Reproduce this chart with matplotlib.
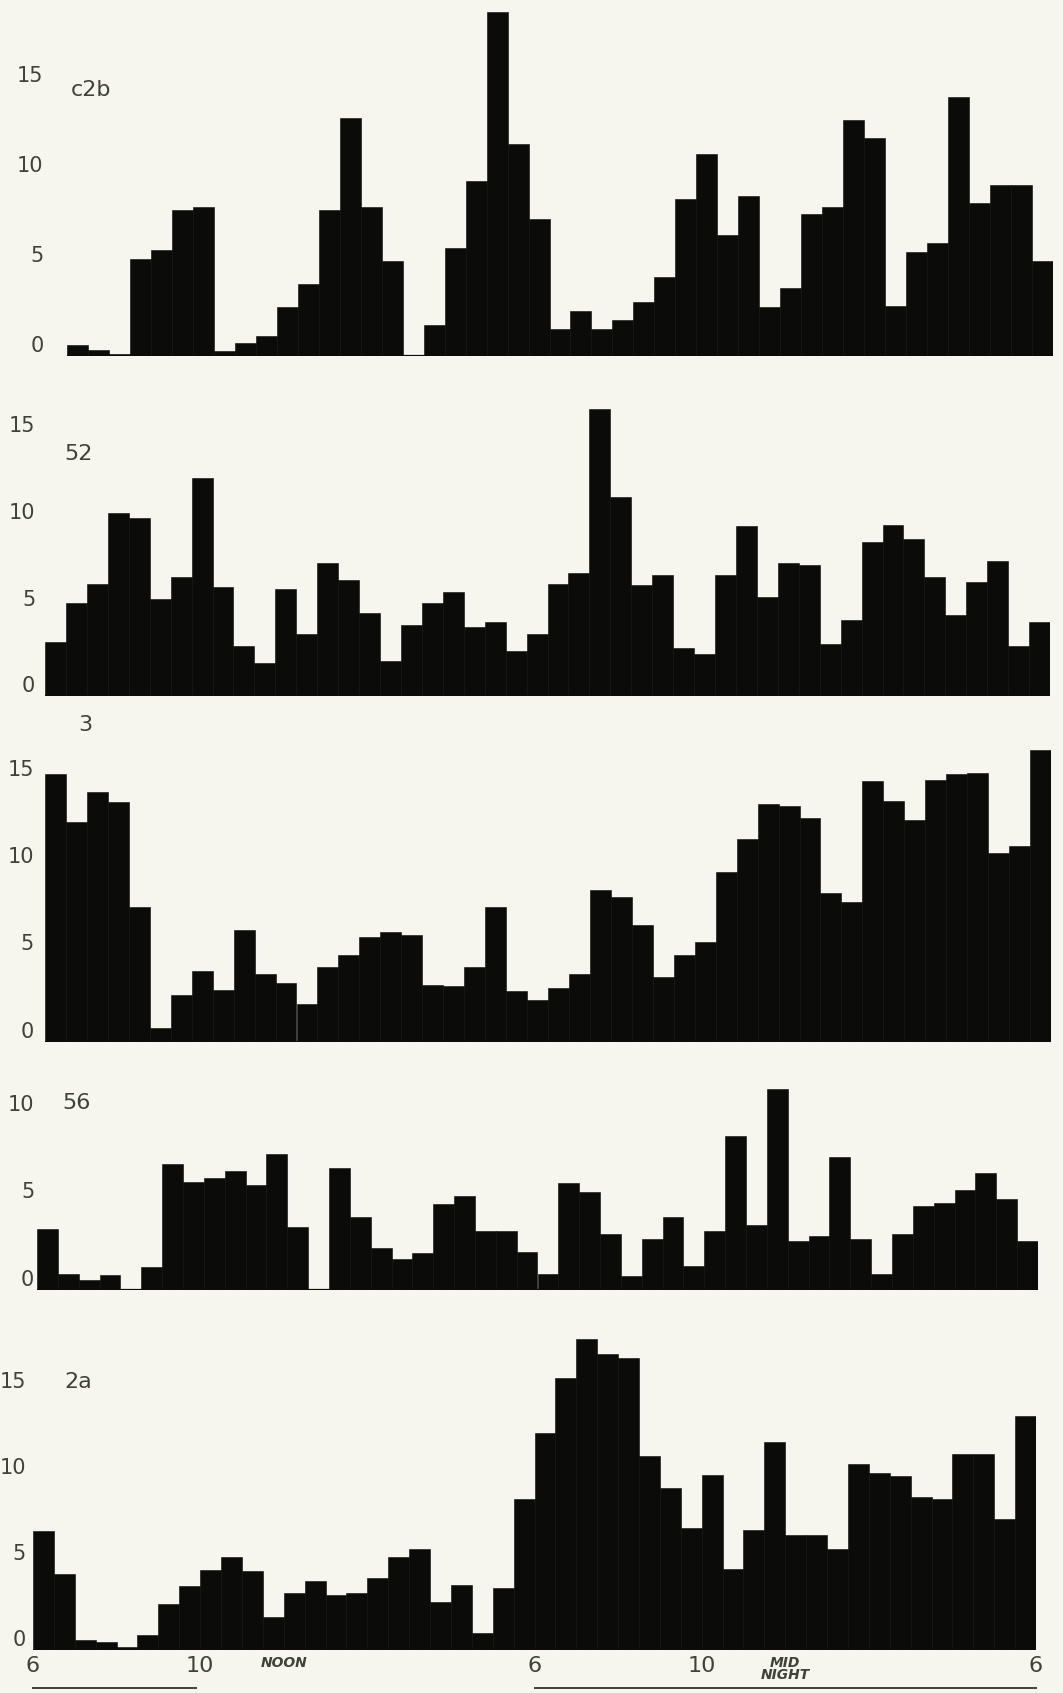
import numpy as np
import matplotlib
matplotlib.use('Agg')
import matplotlib.pyplot as plt

# Half-hour activity counts (6 a.m. to 6 a.m.)
names = ['c2b', '52', '3', '56', '2a']

counts_c2b = [0.6, 0.35, 0.1, 5.4, 5.9, 8.1, 8.3, 0.3, 0.75, 1.1, 2.7, 4.0, 8.1, 13.2, 8.3, 5.3,
              0.05, 1.7, 6.0, 9.7, 19.1, 11.8, 7.6, 1.5, 2.5, 1.5, 2.0, 3.0, 4.4, 8.7, 11.2, 6.7,
              8.9, 2.7, 3.8, 7.9, 8.3, 13.1, 12.1, 2.8, 5.8, 6.3, 14.4, 8.5, 9.5, 9.5, 5.3]
counts_52 = [3.1, 5.4, 6.5, 10.6, 10.3, 5.6, 6.9, 12.6, 6.3, 2.9, 1.9, 6.2, 3.6, 7.7, 6.7, 4.8,
             2.0, 4.1, 5.4, 6.0, 4.0, 4.3, 2.6, 3.6, 6.5, 7.1, 16.6, 11.5, 6.4, 7.0, 2.8, 2.4,
             7.0, 9.8, 5.7, 7.7, 7.6, 3.0, 4.4, 8.9, 9.9, 9.1, 6.9, 4.7, 6.6, 7.8, 2.9, 4.3]
counts_3 = [15.3, 12.6, 14.3, 13.7, 7.7, 0.8, 2.7, 4.05, 3.0, 6.4, 3.9, 3.4, 2.2, 4.3, 5.0, 6.0,
            6.3, 6.1, 3.25, 3.2, 4.3, 7.7, 2.9, 2.4, 3.1, 3.9, 8.7, 8.3, 6.7, 3.7, 5.0, 5.7,
            9.7, 11.6, 13.6, 13.5, 12.8, 8.5, 8.0, 14.9, 13.8, 12.7, 15.0, 15.3, 15.4, 10.8, 11.2, 16.7]
counts_56 = [3.5, 0.9, 0.55, 0.85, 0, 1.3, 7.2, 6.2, 6.4, 6.8, 6.0, 7.8, 3.6, 0, 7.0, 4.2,
             2.4, 1.8, 2.1, 4.9, 5.4, 3.4, 3.4, 2.2, 0.9, 6.1, 5.6, 3.2, 0.8, 2.9, 4.2, 1.4,
             3.4, 8.8, 3.7, 11.5, 2.8, 3.1, 7.6, 2.9, 0.9, 3.2, 4.8, 5.0, 5.7, 6.7, 5.2, 2.8]
counts_2a = [6.9, 4.4, 0.6, 0.45, 0.2, 0.9, 2.7, 3.7, 4.65, 5.4, 4.6, 1.9, 3.3, 4.0, 3.2, 3.3,
             4.2, 5.4, 5.9, 2.8, 3.8, 1.0, 3.6, 8.8, 12.6, 15.8, 18.1, 17.2, 17.0, 11.3, 9.4, 7.1,
             10.2, 4.7, 7.0, 12.1, 6.7, 6.7, 5.9, 10.8, 10.3, 10.1, 8.9, 8.8, 11.4, 11.4, 7.6, 13.6]

yticks_c2b = [0, 5, 10, 15]
yticks_52 = [0, 5, 10, 15]
yticks_3 = [0, 5, 10, 15]
yticks_56 = [0, 5, 10]
yticks_2a = [0, 5, 10, 15]

# time axis (bin index, 0 = 6 a.m.)
time_ticks = [0, 8, 12, 24, 32, 36, 48]
time_labels = ['6', '10', 'NOON', '6', '10', 'MID\nNIGHT', '6']
underline_spans = [(0, 7.8), (24, 48)]

# layout of each strip in pixels: left, right, baseline, px per unit, top value, tick pad, name pos
W, H = 1063, 1693
strips = [
    dict(vals=counts_c2b, ticks=yticks_c2b, left=67, right=1053, base=356, unit=18.0, ymax=19.5, pad=17, name=(0.2, 14.8)),
    dict(vals=counts_52, ticks=yticks_52, left=45, right=1050, base=696, unit=17.3, ymax=18.5, pad=7, name=(0.9, 14.0)),
    dict(vals=counts_3, ticks=yticks_3, left=45, right=1051, base=1042, unit=17.5, ymax=19.0, pad=8, name=(1.6, 18.1)),
    dict(vals=counts_56, ticks=yticks_56, left=37, right=1038, base=1290, unit=17.5, ymax=12.5, pad=2, name=(1.2, 10.7)),
    dict(vals=counts_2a, ticks=yticks_2a, left=33, right=1036, base=1650, unit=17.2, ymax=19.5, pad=5, name=(1.5, 15.6)),
]

bar_color = '#0b0c09'
text_color = '#3f423a'
paper = '#f7f6ee'

fig = plt.figure(figsize=(W / 100, H / 100), dpi=100, facecolor=paper)

axes = []
for name, s in zip(names, strips):
    h_px = s['ymax'] * s['unit']
    ax = fig.add_axes([s['left'] / W, (H - s['base']) / H,
                       (s['right'] - s['left']) / W, h_px / H])
    ax.set_facecolor('none')
    n = len(s['vals'])
    ax.bar(np.arange(n), s['vals'], width=1.0, align='edge', color=bar_color,
           edgecolor=bar_color, linewidth=0.4)
    ax.axhline(0, color=bar_color, lw=1.6, xmin=0, xmax=1)
    ax.set_xlim(0, n)
    ax.set_ylim(0, s['ymax'])

    # y labels sit just above their level, as on the original strips
    ax.set_yticks(s['ticks'])
    ax.set_yticklabels([str(t) for t in s['ticks']], fontsize=15, color=text_color,
                       va='bottom', family='DejaVu Sans')
    ax.tick_params(axis='y', length=0, pad=s['pad'])
    ax.set_xticks([])
    for sp in ax.spines.values():
        sp.set_visible(False)

    ax.text(s['name'][0], s['name'][1], name, fontsize=16, color=text_color,
            va='center', ha='left', family='DejaVu Sans')
    axes.append(ax)

# time labels under the last strip
ax = axes[-1]
ax.set_xticks(time_ticks)
ax.set_xticklabels(time_labels)
ax.tick_params(axis='x', length=0, pad=4)
for lab in ax.get_xticklabels():
    txt = lab.get_text()
    if txt.isdigit():
        lab.set_fontsize(16)
    else:
        lab.set_fontsize(10)
        lab.set_fontstyle('italic')
        lab.set_fontweight('bold')
        lab.set_linespacing(0.9)
    lab.set_color(text_color)
    lab.set_va('top')

# underlines marking the dark periods
y_line = -38 / strips[-1]['unit']
for a, b in underline_spans:
    ax.plot([a, b], [y_line, y_line], color=text_color, lw=1.4, clip_on=False)

plt.savefig('out.png', dpi=100, facecolor=paper)
plt.close()
